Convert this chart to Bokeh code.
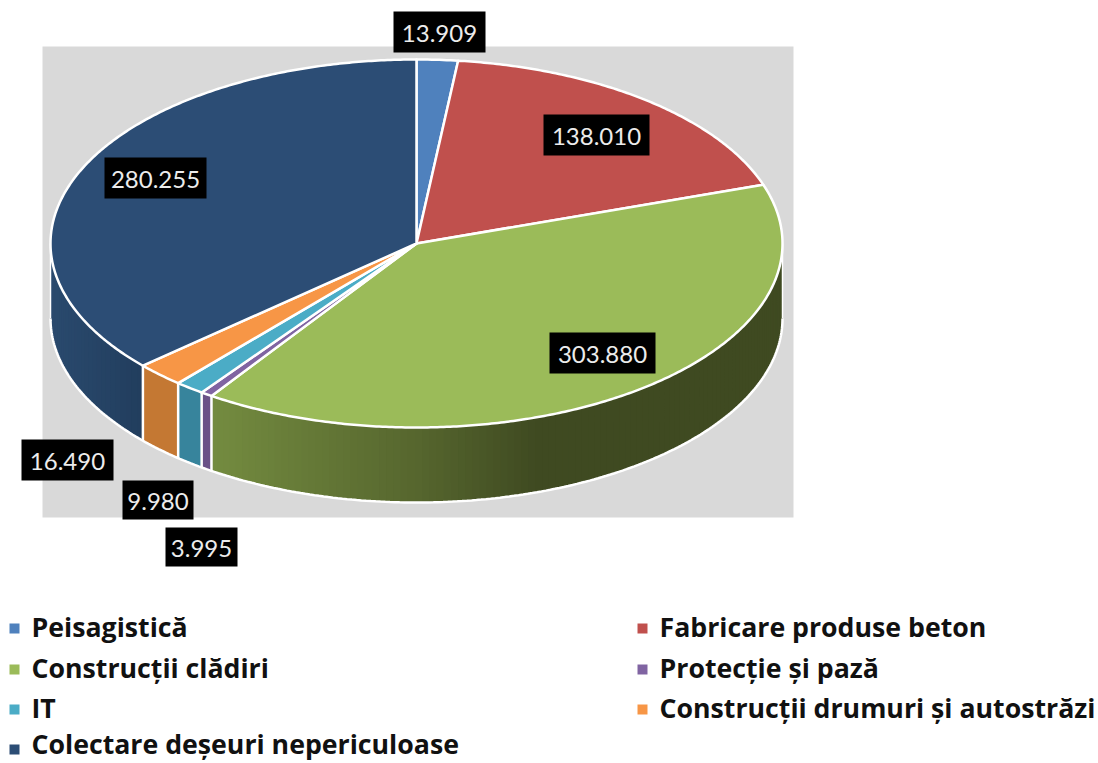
import numpy as np
from bokeh.plotting import figure
from bokeh.models import ColumnDataSource, Range1d
from bokeh.core.properties import value
from bokeh.embed import file_html
from bokeh.resources import INLINE

# ---- data ----
categories = ["Peisagistică", "Fabricare produse beton", "Construcții clădiri", "Protecție și pază",
              "IT", "Construcții drumuri și autostrăzi", "Colectare deșeuri nepericuloase"]
values = [13909, 138010, 303880, 3995, 9980, 16490, 280255]
value_labels = ["13.909", "138.010", "303.880", "3.995", "9.980", "16.490", "280.255"]

# ---- styles ----
top_colors = ["#4f81bd", "#c0504d", "#9bbb59", "#8064a2", "#4bacc6", "#f79646", "#2c4d75"]
side_colors = ["#3b6190", "#93403d", "#5a6b33", "#6a5288", "#37849c", "#c47833", "#233f5f"]

# ---- layout (page pixels) ----
W, H = 1098, 763
CX, CY, RX, RY, DEPTH = 416, 243, 366, 184, 75
PANEL = (42, 793, 46, 517)
label_boxes = [(393, 485, 11, 52), (543, 649, 114, 155), (549, 655, 332, 373), (165, 237, 527, 566),
               (122, 193, 480, 519), (21, 113, 439, 480), (104, 206, 157, 198)]
legend_x = [31, 659, 31, 659, 31, 659, 31]
legend_text_y = [626, 626, 667, 667, 707, 707, 743]
legend_mark_y = [628, 628, 669, 669, 709, 709, 749]

p = figure(width=W, height=H, output_backend="svg", toolbar_location=None,
           x_range=Range1d(0, W), y_range=Range1d(H, 0),
           min_border=0, outline_line_color=None, background_fill_color="white",
           border_fill_color="white")
p.axis.visible = False
p.grid.visible = False

p.quad(left=[PANEL[0]], right=[PANEL[1]], top=[PANEL[2]], bottom=[PANEL[3]],
       fill_color="#d9d9d9", line_color=None)

frac = np.array(values, dtype=float) / sum(values)
edges = np.concatenate([[0.0], np.cumsum(frac)]) * 2 * np.pi


def ex(t):
    return CX + RX * np.sin(t)


def ey(t):
    return CY - RY * np.cos(t)


def hex_rgb(h):
    return np.array([int(h[i:i + 2], 16) for i in (1, 3, 5)], float)


def rgb_hex(c):
    return "#%02x%02x%02x" % tuple(int(round(v)) for v in c)


def shade(x, stops):
    xs = [s[0] for s in stops]
    cols = np.array([hex_rgb(s[1]) for s in stops])
    return rgb_hex([np.interp(x, xs, cols[:, k]) for k in range(3)])


green_stops = [(212, "#748c40"), (420, "#56662e"), (540, "#3f4a21"), (782, "#3f4a21")]
navy_stops = [(50, "#2a4a6e"), (142, "#223e5e")]

# ---- side wall (only the front half is visible); each shaded step is painted
#      through to the end of its wedge so no seams can show ----
strip_xs, strip_ys, strip_c = [], [], []
for i in range(len(values)):
    a0 = max(edges[i], np.pi / 2)
    a1 = min(edges[i + 1], 3 * np.pi / 2)
    if a1 <= a0:
        continue
    steps = {2: 110, 6: 30}.get(i, 1)
    for t0 in np.linspace(a0, a1, steps, endpoint=False):
        tt = np.linspace(t0, a1, 160 if steps > 1 else 40)
        xs = np.concatenate([ex(tt), ex(tt)[::-1]])
        ys = np.concatenate([ey(tt), ey(tt)[::-1] + DEPTH])
        if i == 2:
            c = shade(ex(t0), green_stops)
        elif i == 6:
            c = shade(ex(t0), navy_stops)
        else:
            c = side_colors[i]
        strip_xs.append(xs.tolist())
        strip_ys.append(ys.tolist())
        strip_c.append(c)
p.patches(strip_xs, strip_ys, fill_color=strip_c, line_color=None)

# white edges of the wall
div_t = [t for t in edges[:-1] if np.pi / 2 < t < 3 * np.pi / 2]
p.segment(x0=[ex(t) for t in div_t], y0=[ey(t) for t in div_t],
          x1=[ex(t) for t in div_t], y1=[ey(t) + DEPTH for t in div_t],
          line_color="white", line_width=2.5)
arc = np.linspace(np.pi / 2, 3 * np.pi / 2, 240)
p.line(ex(arc), ey(arc) + DEPTH, line_color="white", line_width=2.5)
p.segment(x0=[ex(arc[0]), ex(arc[-1])], y0=[ey(arc[0]), ey(arc[-1])],
          x1=[ex(arc[0]), ex(arc[-1])], y1=[ey(arc[0]) + DEPTH, ey(arc[-1]) + DEPTH],
          line_color="white", line_width=1.5)

# ---- top face ----
top_xs, top_ys = [], []
for i in range(len(values)):
    n = max(3, int(np.degrees(edges[i + 1] - edges[i])) * 2)
    tt = np.linspace(edges[i], edges[i + 1], n)
    top_xs.append([float(CX)] + ex(tt).tolist())
    top_ys.append([float(CY)] + ey(tt).tolist())
p.patches(top_xs, top_ys, fill_color=top_colors, line_color="white", line_width=2.5,
          line_join="round")

# ---- value labels ----
lb = np.array(label_boxes, float)
p.quad(left=lb[:, 0], right=lb[:, 1], top=lb[:, 2], bottom=lb[:, 3], fill_color="black",
       line_color=None)
p.text(x=(lb[:, 0] + lb[:, 1]) / 2, y=(lb[:, 2] + lb[:, 3]) / 2 + 1, text=value_labels,
       text_color="#ececec", text_font=value("Lato"), text_font_size="24px",
       text_align="center", text_baseline="middle")

# ---- legend ----
src = ColumnDataSource(dict(x=legend_x, mx=[x - 17 for x in legend_x], ty=legend_text_y,
                            my=legend_mark_y, t=categories, c=top_colors))
p.scatter(x="mx", y="my", source=src, marker="square", size=10, fill_color="c", line_color=None)
p.text(x="x", y="ty", text="t", source=src, text_color="#111111", text_font=value("Open Sans"),
       text_font_style="bold", text_font_size="26.7px", text_align="left", text_baseline="middle")

open("out.html", "w").write(file_html(p, INLINE))
